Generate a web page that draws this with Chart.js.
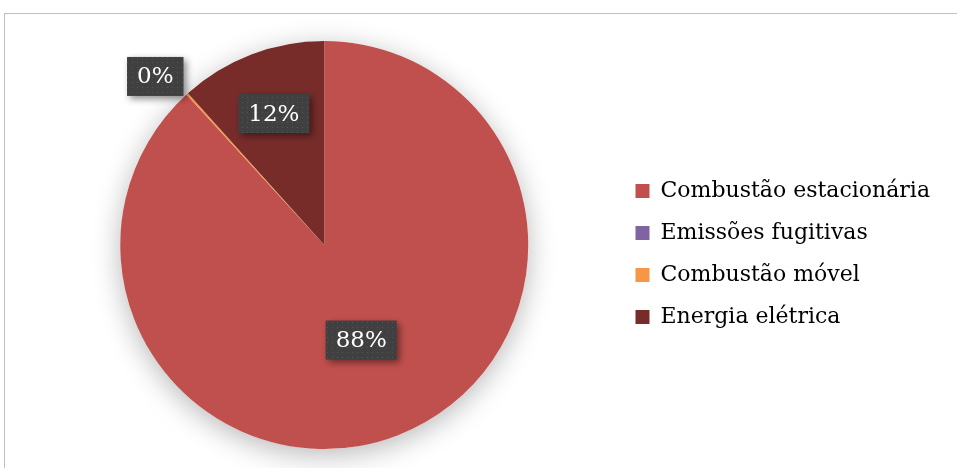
<!DOCTYPE html>
<html>
<head>
<meta charset="utf-8">
<script src="https://cdn.jsdelivr.net/npm/chart.js@4.4.1/dist/chart.umd.min.js"></script>
<style>
  html, body { margin: 0; padding: 0; background: #fff; overflow: hidden; }
  .frame { position: absolute; left: 4px; top: 13px; width: 1100px; height: 600px; border: 1px solid #bfbfbf; }
  .chart-container { position: absolute; left: 0; top: 0; width: 957px; height: 468px; }
</style>
</head>
<body>
<div class="frame"></div>
<div class="chart-container"><canvas id="chart"></canvas></div>
<script>
const categories = ['Combustão estacionária', 'Emissões fugitivas', 'Combustão móvel', 'Energia elétrica'];
const shares = [88.2, 0, 0.15, 11.65];
const colors = ['#C0504D', '#8064A2', '#F79646', '#772C2A'];

const serif = '"DejaVu Serif", "Liberation Serif", serif';

/*dotted dark fill used behind the data labels*/
function makeDotPattern(ctx) {
    const p = document.createElement('canvas');
    p.width = 5; p.height = 5;
    const pc = p.getContext('2d');
    pc.fillStyle = '#404040';
    pc.fillRect(0, 0, 5, 5);
    pc.fillStyle = '#555555';
    pc.fillRect(2, 2, 1, 1);
    return ctx.createPattern(p, 'repeat');
}

/*soft shadow under the pie*/
const pieShadow = {
    id: 'pieShadow',
    afterLayout(chart) {
        // legend sits a bit lower than the pie centre
        chart.legend.top += 9;
        chart.legend.bottom += 9;
    },
    beforeDatasetsDraw(chart) {
        const arc = chart.getDatasetMeta(0).data[0];
        if (!arc) return;
        const ctx = chart.ctx;
        ctx.save();
        ctx.shadowColor = 'rgba(0,0,0,0.28)';
        ctx.shadowBlur = 28;
        ctx.shadowOffsetY = 6;
        ctx.fillStyle = '#fff';
        ctx.beginPath();
        ctx.arc(arc.x, arc.y, arc.outerRadius, 0, Math.PI * 2);
        ctx.fill();
        ctx.restore();
    }
};

/*percent labels in dark boxes*/
const pctLabels = {
    id: 'pctLabels',
    afterDatasetsDraw(chart) {
        const ctx = chart.ctx;
        const meta = chart.getDatasetMeta(0);
        const total = shares.reduce((a, b) => a + b, 0);
        const pattern = makeDotPattern(ctx);
        meta.data.forEach((arc, i) => {
            const v = shares[i];
            if (!v) return;
            let mid = (arc.startAngle + arc.endAngle) / 2;
            // big slices inside, tiny ones outside the pie
            let f = 0.5;
            if (v / total < 0.02) { f = 1.17; mid -= 0.05; }
            else if (v / total < 0.3) f = 0.69;
            const cx = arc.x + Math.cos(mid) * arc.outerRadius * f;
            const cy = arc.y + Math.sin(mid) * arc.outerRadius * f;
            const text = Math.round(v / total * 100) + '%';
            ctx.save();
            ctx.font = '23px ' + serif;
            const w = ctx.measureText(text).width + 20;
            const h = 39;
            ctx.shadowColor = 'rgba(0,0,0,0.45)';
            ctx.shadowBlur = 7;
            ctx.shadowOffsetX = 3;
            ctx.shadowOffsetY = 3;
            ctx.fillStyle = pattern;
            ctx.fillRect(cx - w / 2, cy - h / 2, w, h);
            ctx.restore();
            ctx.save();
            ctx.font = '23px ' + serif;
            ctx.fillStyle = '#ffffff';
            ctx.textAlign = 'center';
            ctx.textBaseline = 'middle';
            ctx.fillText(text, cx, cy + 1);
            ctx.restore();
        });
    }
};

new Chart(document.getElementById('chart'), {
    type: 'pie',
    data: {
        labels: categories,
        datasets: [{
            data: shares,
            backgroundColor: colors,
            borderWidth: 0
        }]
    },
    options: {
        responsive: true,
        maintainAspectRatio: false,
        animation: false,
        layout: {
            padding: { left: 33, top: 41, bottom: 19, right: 17 }
        },
        plugins: {
            legend: {
                position: 'right',
                labels: {
                    boxWidth: 14,
                    boxHeight: 14,
                    padding: 20,
                    color: '#000',
                    font: { family: serif, size: 22 }
                }
            },
            tooltip: { enabled: false }
        }
    },
    plugins: [pieShadow, pctLabels]
});
</script>
</body>
</html>
